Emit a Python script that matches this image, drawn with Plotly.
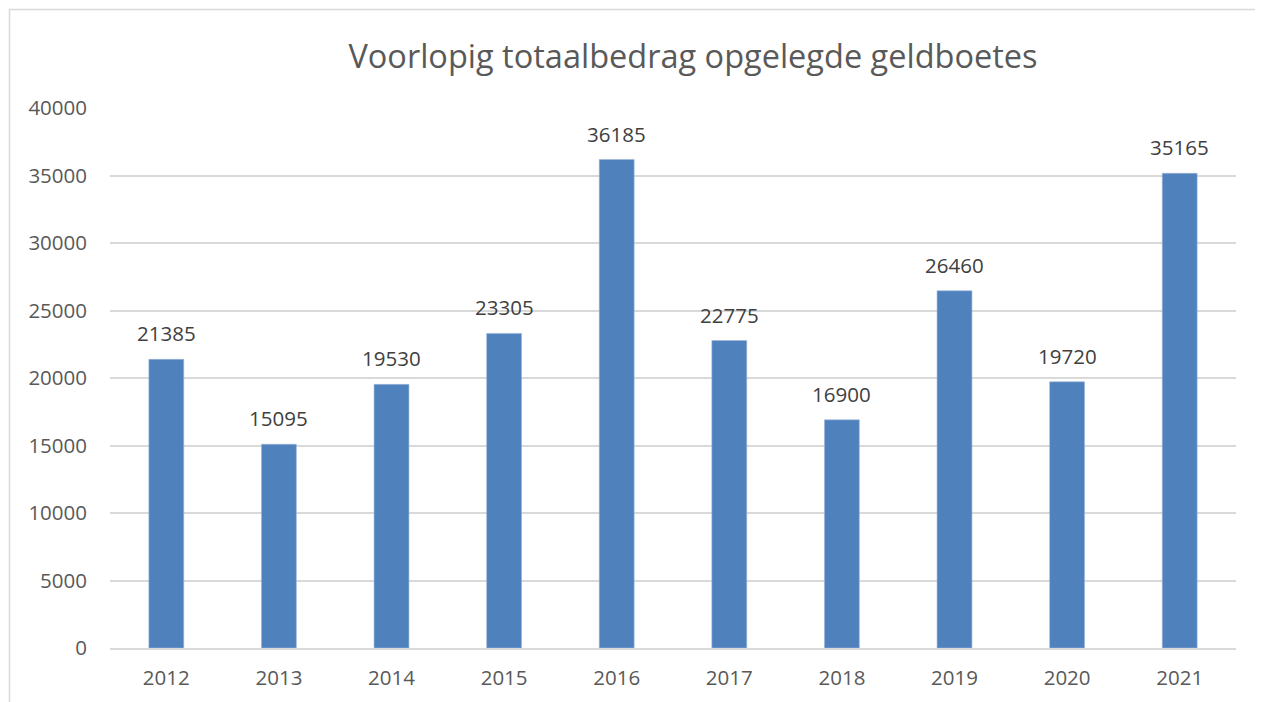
import plotly.graph_objects as go

years = ["2012", "2013", "2014", "2015", "2016", "2017", "2018", "2019", "2020", "2021"]
amounts = [21385, 15095, 19530, 23305, 36185, 22775, 16900, 26460, 19720, 35165]
title_text = "Voorlopig totaalbedrag opgelegde geldboetes"

FONT = "Open Sans, Lato, sans-serif"
TXT = "#595959"

# page body has an 8px margin; work in figure pixels = screen pixels - 8
OFF = 8
W, H = 1263 - OFF, 702 - OFF
L, R, T, B = 110 - OFF, 1236 - OFF, 108 - OFF, 648 - OFF
pw, ph = R - L, B - T

fig = go.Figure()
fig.add_trace(go.Bar(
    x=years, y=amounts,
    marker=dict(color="#4F81BD", line=dict(color="#9DB7DC", width=0.6)),
    hoverinfo="x+y",
))

# value labels (category axis: annotation x is the category's serial number)
for i, v in enumerate(amounts):
    fig.add_annotation(x=i, y=v, text=str(v), showarrow=False, yanchor="middle",
                       yshift=26, font=dict(family=FONT, size=20.5, color="#404040"))

fig.add_shape(type="rect", xref="paper", yref="paper",
              x0=(9.5 - OFF - L) / pw, x1=(1300 - L) / pw,
              y0=(B - 740) / ph, y1=(B - (9.5 - OFF)) / ph,
              line=dict(color="#D9D9D9", width=1.5), fillcolor="rgba(0,0,0,0)", layer="below")

fig.update_layout(
    width=W, height=H,
    margin=dict(l=L, r=W - R, t=T, b=H - B, pad=0),
    paper_bgcolor="white", plot_bgcolor="white",
    bargap=0.69,
    showlegend=False,
    title=dict(text=title_text, x=(693 - OFF) / W, xanchor="center", y=1 - (57 - OFF) / H,
               yanchor="middle", font=dict(family=FONT, size=32.5, color=TXT)),
    xaxis=dict(type="category", showgrid=False, showline=True, linecolor="#D9D9D9", linewidth=1.5,
               ticks="", tickfont=dict(family=FONT, size=20.5, color=TXT), ticklabelstandoff=11),
    yaxis=dict(range=[0, 40000], dtick=5000, showgrid=True, gridcolor="#D9D9D9", gridwidth=1.5,
               zeroline=False, showline=False, ticks="", tickformat="d",
               tickfont=dict(family=FONT, size=20.5, color=TXT), ticklabelstandoff=22),
    font=dict(family=FONT),
)

fig.write_html("out.html")
